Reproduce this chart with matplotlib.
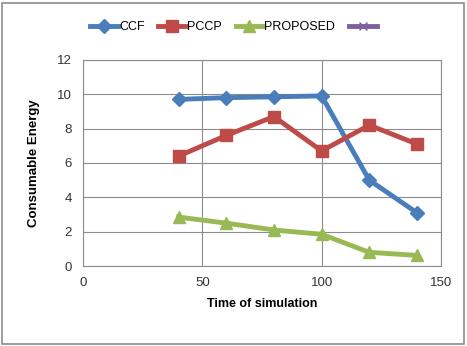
import matplotlib
matplotlib.use('Agg')
import matplotlib.pyplot as plt
from matplotlib.patches import Rectangle

plt.rcParams['font.family'] = ['Liberation Sans', 'DejaVu Sans']

times = [40, 60, 80, 100, 120, 140]
ccf = [9.7, 9.8, 9.85, 9.9, 5.0, 3.1]
pccp = [6.4, 7.6, 8.7, 6.7, 8.2, 7.1]
proposed = [2.85, 2.5, 2.1, 1.85, 0.8, 0.62]

fig = plt.figure(figsize=(4.67, 3.46), dpi=100)
ax = fig.add_axes([0.178, 0.231, 0.766, 0.596])

ax.plot(times, ccf, color='#4A7EBB', lw=3.5, marker='D', ms=7, label='CCF')
ax.plot(times, pccp, color='#BE4B48', lw=3.5, marker='s', ms=9, label='PCCP')
ax.plot(times, proposed, color='#98B954', lw=3.5, marker='^', ms=9, label='PROPOSED')
ax.plot([], [], color='#7D60A0', lw=3.5, marker='x', ms=6, label=' ')

ax.set_xlim(0, 150)
ax.set_ylim(0, 12)
ax.set_xticks([0, 50, 100, 150])
ax.set_yticks(range(0, 13, 2))
ax.grid(True, color='#8c8c8c', lw=0.8)
ax.set_axisbelow(True)
for s in ax.spines.values():
    s.set_color('#8c8c8c')
    s.set_linewidth(0.8)
ax.tick_params(length=0, labelsize=9.5, colors='#333333', pad=8)
ax.set_xlabel('Time of simulation', fontsize=9, fontweight='bold', labelpad=6)
ax.set_ylabel('Consumable Energy', fontsize=9.5, fontweight='bold', labelpad=12)

ax.legend(loc='center', bbox_to_anchor=(0.505, 0.922), bbox_transform=fig.transFigure,
          ncol=4, frameon=False, fontsize=9, handlelength=2.2, handletextpad=0.1,
          columnspacing=1.1)

fig.patches.append(Rectangle((0.004, 0.006), 0.99, 0.985, transform=fig.transFigure,
                             fill=False, edgecolor='#8c8c8c', lw=1.2))

fig.savefig('out.png', dpi=100)
